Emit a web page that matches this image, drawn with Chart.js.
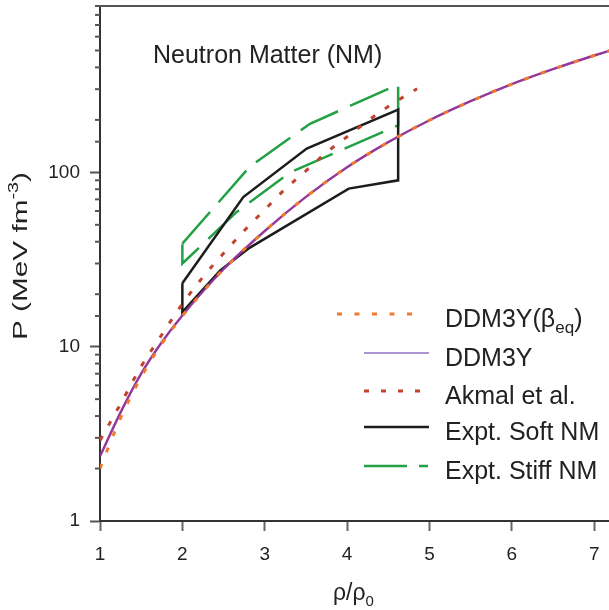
<!DOCTYPE html>
<html><head><meta charset="utf-8">
<script src="https://cdn.jsdelivr.net/npm/chart.js@4.4.1/dist/chart.umd.min.js"></script>
<style>html,body{margin:0;padding:0;background:#fff}#wrap{width:609px;height:610px;position:relative}</style>
</head><body><div id="wrap"><canvas id="c"></canvas></div>
<script>
// ---- data ----
const densityGrid = [1, 1.25, 1.5, 1.75, 2, 2.5, 3, 3.5, 4, 4.5, 5, 5.5, 6, 6.5, 7, 7.2];
const ddm3yP      = [2.35, 4.2, 7.0, 10.6, 15.1, 27.8, 46.1, 72.3, 107, 149, 199, 256, 321, 391, 468, 501];
const ddm3yBetaP  = [2.0, 3.9, 6.7, 10.4, 15.0, 27.8, 46.1, 72.3, 107, 149, 199, 256, 321, 391, 468, 501];
const akmalDensity = [1, 1.25, 1.5, 1.75, 2, 2.25, 2.5, 2.75, 3, 3.25, 3.5, 3.75, 4, 4.25, 4.5, 4.85];
const akmalP       = [2.9, 4.7, 7.7, 11.7, 17.6, 25.1, 34.3, 46.2, 61, 80.4, 102, 130, 160, 197, 239, 302];
const softDensity = [2, 2.74, 3.51, 4.62, 4.62, 4.02, 2.80, 2.46, 2, 2];
const softP       = [23.1, 72.2, 137, 229, 90, 80.7, 36.5, 27.4, 15.8, 23.1];
const stiffDensity = [2, 2.82, 3.55, 4.62, 4.62, 3.31, 2.66, 2, 2];
const stiffP       = [39, 108, 190, 319, 186, 100, 59.3, 30, 39];
const xTickLabels = [1, 2, 3, 4, 5, 6, 7];
const yTickLabels = [1, 10, 100];
const seriesLabels = ['DDM3Y(βeq)', 'DDM3Y', 'Akmal et al.', 'Expt. Soft NM', 'Expt. Stiff NM'];

const FONT = '"Liberation Sans", Arimo, Arial, Helvetica, sans-serif';
const pts = (xs, ys) => xs.map((x, i) => ({x: x, y: ys[i]}));
const isMajor = v => Math.abs(Math.log10(v) - Math.round(Math.log10(v))) < 1e-6;

const datasets = [
  {label: seriesLabels[0], data: pts(densityGrid, ddm3yBetaP), borderColor: '#f07a30', borderWidth: 3,
   borderDash: [5, 12.5], cubicInterpolationMode: 'monotone', legendColor: '#f07a30', legendWidth: 3},
  {label: seriesLabels[1], data: pts(densityGrid, ddm3yP), borderColor: '#93379a', borderWidth: 2.4,
   borderDash: [], cubicInterpolationMode: 'monotone', legendColor: '#9272c2', legendWidth: 1.6},
  {label: seriesLabels[2], data: pts(akmalDensity, akmalP), borderColor: '#c0432e', borderWidth: 3,
   borderDash: [5, 12], cubicInterpolationMode: 'monotone', legendColor: '#c0432e', legendWidth: 3},
  {label: seriesLabels[3], data: pts(softDensity, softP), borderColor: '#1c1c1c', borderWidth: 2.5,
   borderDash: [], tension: 0, legendColor: '#1c1c1c', legendWidth: 2.5},
  {label: seriesLabels[4], data: pts(stiffDensity, stiffP), borderColor: '#22a043', borderWidth: 2.5,
   borderDash: [42, 13], tension: 0, legendColor: '#22a043', legendWidth: 2.5}
];
datasets.forEach(d => { d.pointRadius = 0; d.fill = false; d.borderCapStyle = 'butt'; d.borderJoinStyle = 'miter'; });

const decor = {
  id: 'decor',
  afterDraw(chart) {
    const ctx = chart.ctx, ys = chart.scales.y, ca = chart.chartArea;
    ctx.save();
    // minor y ticks
    ctx.strokeStyle = '#555'; ctx.lineWidth = 2;
    ys.ticks.forEach(t => {
      if (!isMajor(t.value)) {
        const py = ys.getPixelForValue(t.value);
        ctx.beginPath(); ctx.moveTo(ca.left - 5, py); ctx.lineTo(ca.left, py); ctx.stroke();
      }
    });
    // top frame line
    ctx.strokeStyle = '#555';
    ctx.beginPath(); ctx.moveTo(ca.left - 1, ca.top); ctx.lineTo(ca.right, ca.top); ctx.stroke();

    ctx.fillStyle = '#222';
    ctx.textBaseline = 'alphabetic'; ctx.textAlign = 'left';
    // panel title
    ctx.font = '25px ' + FONT;
    ctx.fillText('Neutron Matter (NM)', 153, 63);

    // x title  rho/rho_0
    ctx.font = '23px ' + FONT;
    let xx = 333;
    ctx.fillText('ρ/ρ', xx, 600);
    xx += ctx.measureText('ρ/ρ').width;
    ctx.font = '15px ' + FONT;
    ctx.fillText('0', xx, 606);

    // y title  P (MeV fm^-3), rotated
    ctx.save();
    ctx.translate(27, 340);
    ctx.rotate(-Math.PI / 2);
    const main = 'P (MeV fm', sup = '-3', tail = ')';
    ctx.font = '21px ' + FONT; const w1 = ctx.measureText(main).width, w3 = ctx.measureText(tail).width;
    ctx.font = '14px ' + FONT; const w2 = ctx.measureText(sup).width;
    const sx = 168 / (w1 + w2 + w3);
    ctx.scale(sx, 1);
    ctx.font = '21px ' + FONT; ctx.fillText(main, 0, 0);
    ctx.font = '14px ' + FONT; ctx.fillText(sup, w1, -9);
    ctx.font = '21px ' + FONT; ctx.fillText(tail, w1 + w2, 0);
    ctx.restore();

    // legend
    const rowsY = [314, 353, 391, 427, 466];
    const sampleX = [[337, 412], [364, 429], [364, 429], [364, 429], [364, 429]];
    chart.data.datasets.forEach((d, i) => {
      const y = rowsY[i];
      ctx.save();
      ctx.strokeStyle = d.legendColor;
      ctx.lineWidth = d.legendWidth;
      ctx.setLineDash(i === 4 ? [43, 12, 9, 100] : d.borderDash);
      ctx.lineCap = 'butt';
      ctx.beginPath(); ctx.moveTo(sampleX[i][0], y); ctx.lineTo(sampleX[i][1], y); ctx.stroke();
      ctx.restore();
      ctx.font = '25px ' + FONT;
      ctx.fillStyle = '#222';
      if (i === 0) {
        const a = 'DDM3Y(β';
        ctx.fillText(a, 445, y + 13);
        let px = 445 + ctx.measureText(a).width;
        ctx.font = '17px ' + FONT;
        ctx.fillText('eq', px, y + 19);
        px += ctx.measureText('eq').width;
        ctx.font = '25px ' + FONT;
        ctx.fillText(')', px, y + 13);
      } else {
        ctx.fillText(d.label, 445, y + 12.5);
      }
    });
    ctx.restore();
  }
};

new Chart(document.getElementById('c'), {
  type: 'line',
  data: {datasets: datasets},
  options: {
    responsive: true, maintainAspectRatio: false, animation: false,
    layout: {padding: {top: 6, right: 0, left: 0, bottom: 0}},
    plugins: {legend: {display: false}, tooltip: {enabled: false}},
    scales: {
      x: {
        type: 'linear', min: 1, max: 7.18,
        afterFit: s => { s.height = 89; s.paddingLeft = 0; s.paddingRight = 0; },
        ticks: {stepSize: 1, includeBounds: false, autoSkip: false, maxRotation: 0,
                font: {family: FONT, size: 19}, color: '#222', padding: 12,
                callback: v => xTickLabels.includes(v) ? String(v) : ''},
        grid: {drawOnChartArea: false, drawTicks: true, tickLength: 10, tickColor: '#666', tickWidth: 2},
        border: {display: true, color: '#333', width: 2}
      },
      y: {
        type: 'logarithmic', min: 1, max: 900,
        afterFit: s => { s.width = 100; s.paddingTop = 0; s.paddingBottom = 0; },
        ticks: {autoSkip: false, font: {family: FONT, size: 19}, color: '#222', padding: 10,
                callback: v => yTickLabels.some(t => Math.abs(t - v) < 1e-6) ? String(Math.round(v)) : ''},
        grid: {drawOnChartArea: false, drawTicks: true, tickLength: 10, tickWidth: 2,
               tickColor: c => (c.tick && isMajor(c.tick.value)) ? '#555' : 'rgba(0,0,0,0)'},
        border: {display: true, color: '#333', width: 2}
      }
    }
  },
  plugins: [decor]
});
</script>
</body></html>
